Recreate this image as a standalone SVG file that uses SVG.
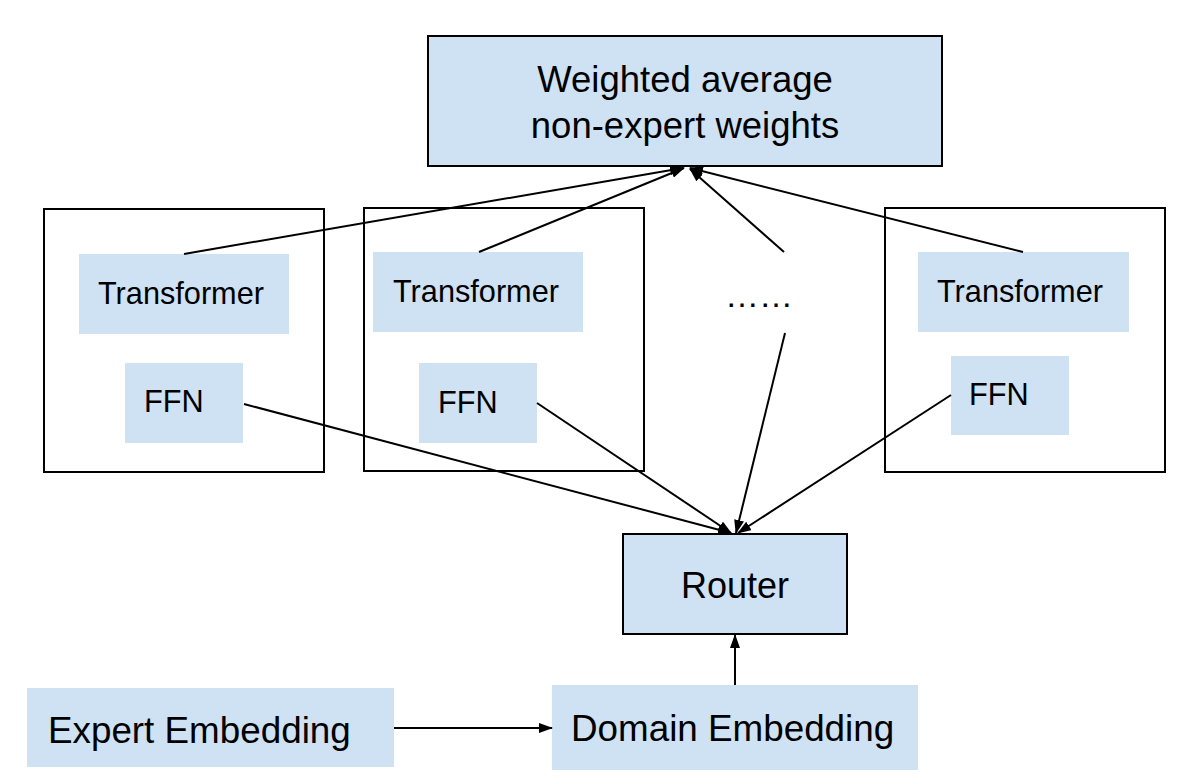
<svg xmlns="http://www.w3.org/2000/svg" width="1180" height="784" viewBox="0 0 1180 784">
<style>
.bg{fill:#ffffff}
.blue{fill:#cfe2f3}
.bordered{fill:#cfe2f3;stroke:#000;stroke-width:2}
.frame{fill:none;stroke:#000;stroke-width:2}
.lbl{font-family:"Liberation Sans",Arial,sans-serif;fill:#000}
.conn{stroke:#000;stroke-width:2;fill:none}
</style>
<defs>
<marker id="arrow" markerUnits="userSpaceOnUse" markerWidth="14" markerHeight="10" viewBox="0 0 14 10" refX="13" refY="5" orient="auto">
<path d="M0,0 L14,5 L0,10 Z" fill="#000"/>
</marker>
</defs>
<rect class="bg" x="0" y="0" width="1180" height="784"/>

<g id="weighted-average">
<rect class="bordered" x="428" y="36" width="514" height="130"/>
<text class="lbl" x="685" y="92" font-size="36.5" text-anchor="middle">Weighted average</text>
<text class="lbl" x="685" y="138" font-size="36.5" text-anchor="middle">non-expert weights</text>
</g>

<g id="expert-1">
<rect class="frame" x="44" y="209" width="280" height="263"/>
<rect class="blue" x="79" y="254" width="210" height="80"/>
<text class="lbl" x="98" y="304" font-size="30.7">Transformer</text>
<rect class="blue" x="125" y="363" width="118" height="80"/>
<text class="lbl" x="144" y="412" font-size="30.7">FFN</text>
</g>

<g id="expert-2">
<rect class="frame" x="364" y="208" width="280" height="263"/>
<rect class="blue" x="373" y="252" width="210" height="80"/>
<text class="lbl" x="393" y="302" font-size="30.7">Transformer</text>
<rect class="blue" x="419" y="363" width="118" height="80"/>
<text class="lbl" x="438" y="413" font-size="30.7">FFN</text>
</g>

<g id="ellipsis">
<text class="lbl" x="725" y="307" font-size="34">……</text>
</g>

<g id="expert-n">
<rect class="frame" x="885" y="208" width="280" height="264"/>
<rect class="blue" x="918" y="252" width="211" height="80"/>
<text class="lbl" x="937" y="302" font-size="30.7">Transformer</text>
<rect class="blue" x="951" y="356" width="118" height="79"/>
<text class="lbl" x="969" y="405" font-size="30.7">FFN</text>
</g>

<g id="router">
<rect class="bordered" x="623" y="534" width="224" height="100"/>
<text class="lbl" x="735" y="598" font-size="36" text-anchor="middle">Router</text>
</g>

<g id="expert-embedding">
<rect class="blue" x="27" y="688" width="367" height="79"/>
<text class="lbl" x="48" y="743" font-size="36.8">Expert Embedding</text>
</g>

<g id="domain-embedding">
<rect class="blue" x="552" y="685" width="366" height="85"/>
<text class="lbl" x="571" y="741" font-size="36.8">Domain Embedding</text>
</g>

<g id="connectors">
<line class="conn" x1="184" y1="254" x2="683" y2="168" marker-end="url(#arrow)"/>
<line class="conn" x1="479" y1="252" x2="684" y2="168" marker-end="url(#arrow)"/>
<line class="conn" x1="784" y1="252" x2="690" y2="169" marker-end="url(#arrow)"/>
<line class="conn" x1="1023" y1="252" x2="690" y2="168" marker-end="url(#arrow)"/>
<line class="conn" x1="244" y1="404" x2="731" y2="533" marker-end="url(#arrow)"/>
<line class="conn" x1="537" y1="403" x2="731" y2="533" marker-end="url(#arrow)"/>
<line class="conn" x1="785" y1="333" x2="736" y2="533" marker-end="url(#arrow)"/>
<line class="conn" x1="951" y1="395" x2="738" y2="533" marker-end="url(#arrow)"/>
<line class="conn" x1="735" y1="685" x2="735" y2="635" marker-end="url(#arrow)"/>
<line class="conn" x1="394" y1="728" x2="552" y2="728" marker-end="url(#arrow)"/>
</g>
</svg>
